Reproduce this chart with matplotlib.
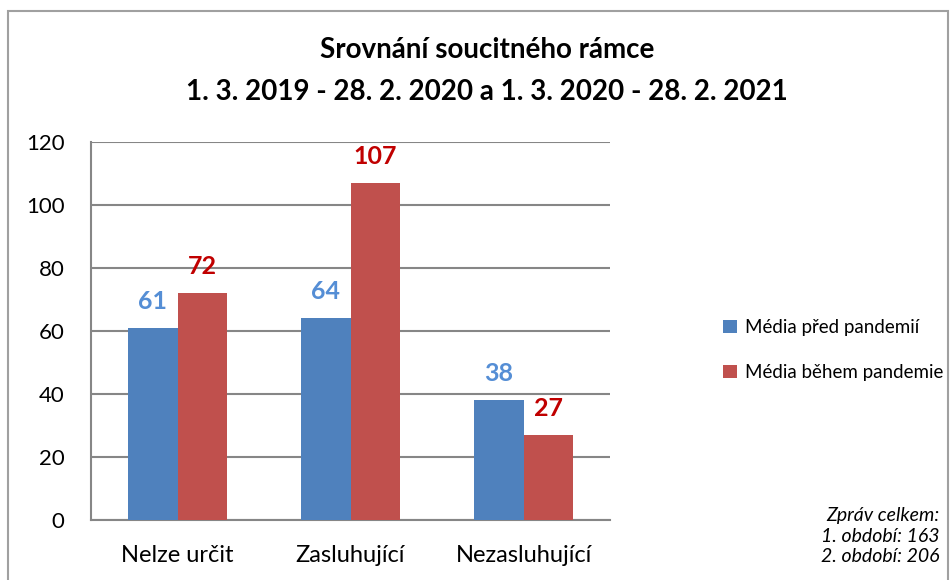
import matplotlib.pyplot as plt
from matplotlib.patches import Rectangle
import numpy as np

plt.rcParams['font.family'] = ['Lato', 'DejaVu Sans']

categories = ["Nelze určit", "Zasluhující", "Nezasluhující"]
pred = [61, 64, 38]
behem = [72, 107, 27]
series_names = ["Média před pandemií", "Média během pandemie"]
note = "Zpráv celkem:\n1. období: 163\n2. období: 206"

blue = "#4F81BD"
red = "#C0504D"
blue_lbl = "#558ED5"
red_lbl = "#C00000"
grid_c = "#868686"

fig = plt.figure(figsize=(9.53, 5.8), dpi=100)
W, H = 953, 580
ax = fig.add_axes([91 / W, 1 - 520 / H, (610 - 91) / W, (520 - 142) / H])

x = np.arange(len(categories))
w = 0.286
b1 = ax.bar(x - w / 2, pred, w, color=blue, label=series_names[0], zorder=3)
b2 = ax.bar(x + w / 2, behem, w, color=red, label=series_names[1], zorder=3)

for rect, v in zip(b1, pred):
    ax.text(rect.get_x() + rect.get_width() / 2, v + 8.5, str(v), ha='center', va='center',
            color=blue_lbl, fontsize=18, fontweight='bold')
for rect, v in zip(b2, behem):
    ax.text(rect.get_x() + rect.get_width() / 2, v + 8.5, str(v), ha='center', va='center',
            color=red_lbl, fontsize=18, fontweight='bold')

ax.set_xlim(-0.5, 2.5)
ax.set_ylim(0, 120)
ax.set_yticks(range(0, 121, 20))
ax.yaxis.grid(True, color=grid_c, linewidth=1.5, zorder=0)
ax.set_xticks(x)
ax.set_xticklabels(categories)
ax.tick_params(axis='y', length=0, labelsize=16, pad=19)
ax.tick_params(axis='x', length=0, labelsize=17, pad=18)
for s in ['top', 'right']:
    ax.spines[s].set_visible(False)
for s in ['left', 'bottom']:
    ax.spines[s].set_color(grid_c)
    ax.spines[s].set_linewidth(1.5)

fig.text(487 / W, 1 - 50 / H, "Srovnání soucitného rámce", ha='center', va='center',
         fontsize=20, fontweight='bold')
fig.text(487 / W, 1 - 92 / H, "1. 3. 2019 - 28. 2. 2020 a 1. 3. 2020 - 28. 2. 2021", ha='center',
         va='center', fontsize=20, fontweight='bold')

fig.legend(loc='center left', bbox_to_anchor=(706 / W, 1 - 350 / H), frameon=False,
           fontsize=13.5, handlelength=0.75, handleheight=0.75, handletextpad=0.45,
           labelspacing=1.5)

fig.text(940 / W, 1 - 536 / H, note, ha='right', va='center', fontsize=14,
         style='italic', linespacing=1.25)

# outer frame like the source
fig.patches.append(Rectangle((8 / W, -0.05), (948 - 8) / W, 1.05 - 11 / H, transform=fig.transFigure,
                             fill=False, edgecolor='#A0A0A0', linewidth=1.5))

fig.savefig("out.png", dpi=100)
